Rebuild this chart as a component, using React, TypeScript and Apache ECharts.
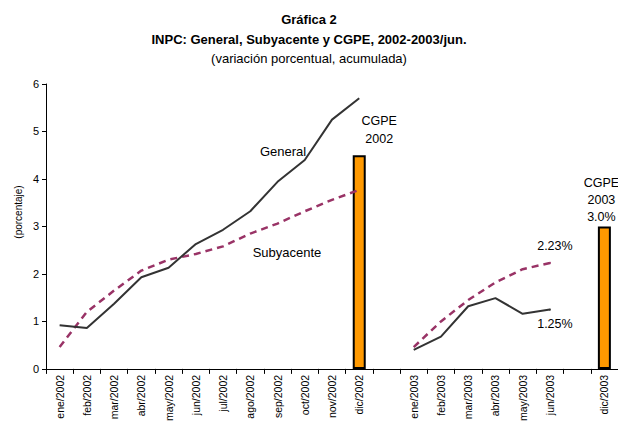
import React, { useEffect, useRef } from "react";
import * as echarts from "echarts";

const categories = [
  "ene/2002", "feb/2002", "mar/2002", "abr/2002", "may/2002", "jun/2002",
  "jul/2002", "ago/2002", "sep/2002", "oct/2002", "nov/2002", "dic/2002",
  " ",
  "ene/2003", "feb/2003", "mar/2003", "abr/2003", "may/2003", "jun/2003",
  "  ",
  "dic/2003",
];

const general = [
  0.92, 0.86, 1.37, 1.93, 2.13, 2.63, 2.93, 3.32, 3.94, 4.40, 5.25, 5.70,
  null,
  0.40, 0.68, 1.32, 1.49, 1.16, 1.25,
  null, null,
];

const subyacente = [
  0.46, 1.2, 1.65, 2.07, 2.3, 2.42, 2.58, 2.85, 3.06, 3.32, 3.56, 3.77,
  null,
  0.46, 1.0, 1.45, 1.82, 2.1, 2.23,
  null, null,
];

const cgpe = [
  null, null, null, null, null, null, null, null, null, null, null, 4.5,
  null,
  null, null, null, null, null, null,
  null, 3.0,
];

const cgpeLabels: Record<number, string> = { 11: "CGPE\n2002", 20: "CGPE\n2003\n3.0%" };
const endLabelIndex = 18;
const yTicks = { min: 0, max: 6, interval: 1 };

const titleLines = [
  "Gráfica 2",
  "INPC: General, Subyacente y CGPE, 2002-2003/jun.",
  "(variación porcentual, acumulada)",
];

const FONT = "Liberation Sans, Arial, sans-serif";

export default function App() {
  const ref = useRef<HTMLDivElement>(null);
  useEffect(() => {
    document.body.style.margin = "0";
    const chart = echarts.init(ref.current!, null, { renderer: "svg" });

    const generalData = general.map((v, i) =>
      i === endLabelIndex
        ? {
            value: v,
            symbol: "circle",
            symbolSize: 2,
            label: {
              show: true,
              position: "bottom",
              distance: 7,
              offset: [5, 0],
              formatter: v!.toFixed(2) + "%",
              fontSize: 12.5,
              color: "#000",
              fontFamily: FONT,
            },
          }
        : v
    );
    const subData = subyacente.map((v, i) =>
      i === endLabelIndex
        ? {
            value: v,
            symbol: "circle",
            symbolSize: 2,
            label: {
              show: true,
              position: "top",
              distance: 10,
              offset: [5, 0],
              formatter: v!.toFixed(2) + "%",
              fontSize: 12.5,
              color: "#000",
              fontFamily: FONT,
            },
          }
        : v
    );
    const barData = cgpe.map((v, i) =>
      v == null
        ? null
        : {
            value: v,
            label: {
              show: true,
              position: "top",
              distance: i === 11 ? 7 : 1,
              offset: i === 11 ? [20, 0] : [-3, 0],
              formatter: cgpeLabels[i],
              fontSize: 12.5,
              lineHeight: i === 11 ? 18 : 17,
              color: "#000",
              fontFamily: FONT,
            },
          }
    );

    const titleY = [19, 39, 58];

    chart.setOption({
      animation: false,
      backgroundColor: "#fff",
      grid: { left: 46, top: 84, width: 573, height: 288, containLabel: false },
      xAxis: {
        type: "category",
        data: categories,
        boundaryGap: true,
        axisLine: { lineStyle: { color: "#000", width: 1 } },
        axisTick: { show: true, interval: 0, length: 5, lineStyle: { color: "#000" } },
        axisLabel: { interval: 0, rotate: 90, fontSize: 10.5, margin: 6, color: "#000", fontFamily: FONT },
        splitLine: { show: false },
      },
      yAxis: {
        type: "value",
        min: yTicks.min,
        max: yTicks.max,
        interval: yTicks.interval,
        axisLine: { show: true, lineStyle: { color: "#000", width: 1 } },
        axisTick: { show: true, length: 4, lineStyle: { color: "#000" } },
        axisLabel: { fontSize: 11, margin: 7, color: "#000", fontFamily: FONT },
        splitLine: { show: false },
      },
      graphic: [
        ...titleLines.map((t, i) => ({
          type: "text",
          x: 309,
          y: titleY[i],
          style: {
            text: t,
            fontSize: 13,
            fontWeight: i < 2 ? "bold" : "normal",
            fill: "#000",
            fontFamily: FONT,
            align: "center",
            verticalAlign: "middle",
          },
        })),
        {
          type: "text",
          x: 18,
          y: 212,
          rotation: Math.PI / 2,
          style: { text: "(porcentaje)", fontSize: 10, fill: "#000", fontFamily: FONT, align: "center", verticalAlign: "middle" },
        },
        {
          type: "text",
          x: 283,
          y: 151,
          style: { text: "General", fontSize: 13, fill: "#000", fontFamily: FONT, align: "center", verticalAlign: "middle" },
        },
        {
          type: "text",
          x: 287,
          y: 252,
          style: { text: "Subyacente", fontSize: 13, fill: "#000", fontFamily: FONT, align: "center", verticalAlign: "middle" },
        },
      ],
      series: [
        {
          name: "CGPE",
          type: "bar",
          data: barData,
          barWidth: 13,
          itemStyle: { color: "#FF9900", borderColor: "#000", borderWidth: 2 },
          z: 1,
        },
        {
          name: "Subyacente",
          type: "line",
          data: subData,
          symbol: "none",
          connectNulls: false,
          lineStyle: { color: "#993366", width: 2.5, type: [7, 5] },
          itemStyle: { color: "#993366" },
          z: 3,
        },
        {
          name: "General",
          type: "line",
          data: generalData,
          symbol: "none",
          connectNulls: false,
          lineStyle: { color: "#333333", width: 2 },
          itemStyle: { color: "#333333" },
          z: 4,
        },
      ],
    });
    return () => chart.dispose();
  }, []);
  return <div ref={ref} style={{ position: "absolute", left: 0, top: 0, width: 618, height: 424 }} />;
}
